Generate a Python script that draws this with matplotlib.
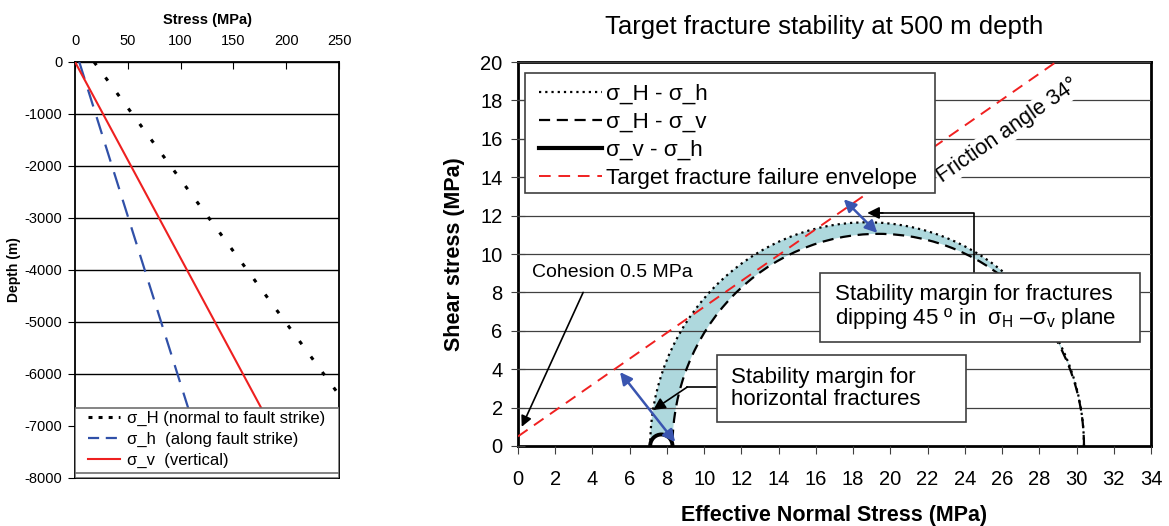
import matplotlib
matplotlib.use("Agg")
import matplotlib.pyplot as plt
from matplotlib.patches import Arc, Wedge, Rectangle
from matplotlib.lines import Line2D

plt.rcParams['font.family'] = ['Liberation Sans', 'DejaVu Sans']
plt.rcParams['mathtext.fontset'] = 'custom'
plt.rcParams['mathtext.rm'] = 'Liberation Sans'
plt.rcParams['mathtext.it'] = 'Liberation Sans:italic'
plt.rcParams['axes.unicode_minus'] = False

# left panel: stress profiles with depth
depth_m = [0, -8000]
stress_H = [18, 308]
stress_h = [4, 128]
stress_v = [0, 212]
depth_ticks = [0, -1000, -2000, -3000, -4000, -5000, -6000, -7000, -8000]
stress_ticks = [0, 50, 100, 150, 200, 250]
left_labels = ["σ_H (normal to fault strike)", "σ_h  (along fault strike)", "σ_v  (vertical)"]

# right panel: effective principal stresses at 500 m (MPa)
sig_H = 30.4
sig_h = 7.1
sig_v = 8.3
env_sigma = [0, 28.9]
env_tau = [0.5, 20.0]
right_labels = ["σ_H - σ_h", "σ_H - σ_v", "σ_v - σ_h", "Target fracture failure envelope"]
x_ticks = list(range(0, 35, 2))
y_ticks = list(range(0, 21, 2))

fig = plt.figure(figsize=(11.69, 5.26), dpi=100)

# ---------------- left panel
ax1 = fig.add_axes([0.0642, 0.0913, 0.2258, 0.7909])
ax1.plot(stress_H, depth_m, color="black", lw=2.2, dashes=(1.3, 5.0), zorder=3)
ax1.plot(stress_h, depth_m, color="#3050a8", lw=1.6, dashes=(8, 5), zorder=3)
ax1.plot(stress_v, depth_m, color="#ee2020", lw=1.5, zorder=3)
ax1.set_xlim(0, 250)
ax1.set_ylim(-8000, 0)
ax1.set_xticks(stress_ticks)
ax1.set_yticks(depth_ticks)
ax1.xaxis.tick_top()
ax1.xaxis.set_label_position("top")
ax1.tick_params(axis="x", direction="in", length=5, pad=10, labelsize=10.5)
ax1.tick_params(axis="y", direction="out", length=5, pad=4, labelsize=10.5)
ax1.set_xlabel("Stress (MPa)", fontsize=10.5, fontweight="bold", labelpad=7)
ax1.set_ylabel("Depth (m)", fontsize=10, fontweight="bold", labelpad=3)
ax1.yaxis.grid(True, color="black", lw=1.0)
ax1.set_axisbelow(True)
for s in ax1.spines.values():
    s.set_linewidth(1.3)

# legend frame covers the lower strip of the panel
ax1.add_patch(Rectangle((0, 0), 1, 0.168, transform=ax1.transAxes, facecolor="white",
                        edgecolor="#707070", lw=1.2, zorder=4.5))
ax1.plot([0, 1], [0.012, 0.012], transform=ax1.transAxes, color="#707070", lw=1.2, zorder=4.6)
h1 = [Line2D([], [], color="black", lw=2.2, dashes=(1.3, 2.0)),
      Line2D([], [], color="#3050a8", lw=1.6, dashes=(5, 3)),
      Line2D([], [], color="#ee2020", lw=1.5)]
leg1 = ax1.legend(h1, left_labels, loc="upper left", bbox_to_anchor=(0.05, 0.162),
                  fontsize=12, frameon=False, handlelength=1.9, handletextpad=0.45,
                  labelspacing=0.36, borderpad=0, borderaxespad=0)
leg1.set_zorder(5)

# ---------------- right panel
ax2 = fig.add_axes([0.4431, 0.1521, 0.5415, 0.7300])
ax2.set_xlim(0, 34)
ax2.set_ylim(0, 20)
ax2.set_xticks(x_ticks)
ax2.set_yticks(y_ticks)
ax2.yaxis.grid(True, color="#404040", lw=0.9, zorder=2.5)
ax2.set_axisbelow(False)
ax2.tick_params(axis="x", direction="out", length=6, pad=11, labelsize=14.5, color="#404040")
ax2.tick_params(axis="y", direction="inout", length=10, pad=6, labelsize=14.5, color="#404040")
for s in ax2.spines.values():
    s.set_linewidth(2.0)

# stability band between the two large Mohr circles
c_Hh, r_Hh = (sig_H + sig_h) / 2, (sig_H - sig_h) / 2
c_Hv, r_Hv = (sig_H + sig_v) / 2, (sig_H - sig_v) / 2
c_vh, r_vh = (sig_v + sig_h) / 2, (sig_v - sig_h) / 2
ax2.add_patch(Wedge((c_Hh, 0), r_Hh, 0, 180, facecolor="#aed8dd", edgecolor="none", zorder=1))
ax2.add_patch(Wedge((c_Hv, 0), r_Hv, 0, 180, facecolor="white", edgecolor="none", zorder=1.1))
ax2.add_patch(Wedge((c_vh, 0), r_vh, 0, 180, facecolor="white", edgecolor="none", zorder=1.1))

ax2.add_patch(Arc((c_Hh, 0), 2 * r_Hh, 2 * r_Hh, theta1=0, theta2=180,
                  color="black", lw=1.6, linestyle=(0, (1, 1.8)), zorder=3))
ax2.add_patch(Arc((c_Hv, 0), 2 * r_Hv, 2 * r_Hv, theta1=0, theta2=180,
                  color="black", lw=1.6, linestyle=(0, (5, 3)), zorder=3))
ax2.add_patch(Arc((c_vh, 0), 2 * r_vh, 2 * r_vh, theta1=0, theta2=180,
                  color="black", lw=2.8, zorder=3))

ax2.plot(env_sigma, env_tau, color="#f02020", lw=1.4, dashes=(6, 4), zorder=3)

ax2.add_patch(Rectangle((0.011, 0.659), 0.648, 0.312, transform=ax2.transAxes,
                        facecolor="white", edgecolor="#404040", lw=1.2, zorder=5.5))
h2 = [Line2D([], [], color="black", lw=1.6, linestyle=(0, (1, 1.8))),
      Line2D([], [], color="black", lw=1.6, linestyle=(0, (5, 3))),
      Line2D([], [], color="black", lw=3.0),
      Line2D([], [], color="#f02020", lw=1.4, dashes=(6, 4))]
leg2 = ax2.legend(h2, right_labels, loc="upper left", bbox_to_anchor=(0.033, 0.943),
                  fontsize=16.2, frameon=False, handlelength=2.8,
                  handletextpad=0.2, labelspacing=0.31, borderpad=0, borderaxespad=0)
leg2.set_zorder(6)

ax2.text(26.3, 16.4, "Friction angle 34°", fontsize=15.5, rotation=34.7,
         ha="center", va="center", rotation_mode="anchor", zorder=4,
         bbox=dict(facecolor="white", edgecolor="none", pad=1))

ax2.text(0.75, 9.06, "Cohesion 0.5 MPa", fontsize=14, ha="left", va="center", zorder=4,
         bbox=dict(facecolor="white", edgecolor="none", pad=0.5))
ax2.annotate("", xy=(0.2, 1.0), xytext=(3.5, 8.0), zorder=4,
             arrowprops=dict(arrowstyle="-|>", color="black", lw=1.2, mutation_scale=16,
                             shrinkA=0, shrinkB=0))

# callout boxes
ax2.add_patch(Rectangle((10.70, 1.25), 13.38, 3.49, facecolor="white",
                        edgecolor="#404040", lw=1.2, zorder=5))
ax2.text(11.45, 3.0, "Stability margin for\nhorizontal fractures", fontsize=16,
         ha="left", va="center", linespacing=1.05, zorder=5.1)
ax2.plot([10.7, 9.09], [3.07, 3.07], color="black", lw=1.2, zorder=4)
ax2.annotate("", xy=(7.26, 1.875), xytext=(9.09, 3.07), zorder=4,
             arrowprops=dict(arrowstyle="-|>", color="black", lw=1.2, mutation_scale=18,
                             shrinkA=0, shrinkB=0))

ax2.add_patch(Rectangle((16.24, 5.42), 17.15, 3.59, facecolor="white",
                        edgecolor="#404040", lw=1.2, zorder=5))
ax2.text(17.05, 7.21, "Stability margin for fractures\ndipping 45 º in  σ$_\\mathrm{H}$ –σ$_\\mathrm{v}$ plane",
         fontsize=16, ha="left", va="center", linespacing=1.05, zorder=5.1)
ax2.plot([24.5, 24.5, 19.5], [9.01, 12.14, 12.14], color="black", lw=1.2, zorder=4)
ax2.annotate("", xy=(18.76, 12.14), xytext=(19.6, 12.14), zorder=4,
             arrowprops=dict(arrowstyle="-|>", color="black", lw=1.2, mutation_scale=18,
                             shrinkA=0, shrinkB=0))

blue = "#3a55b0"
ax2.annotate("", xy=(5.48, 3.85), xytext=(8.44, 0.2), zorder=4,
             arrowprops=dict(arrowstyle="<|-|>", color=blue, lw=1.8, mutation_scale=18,
                             shrinkA=0, shrinkB=0))
ax2.annotate("", xy=(17.5, 12.85), xytext=(19.3, 11.1), zorder=4,
             arrowprops=dict(arrowstyle="<|-|>", color=blue, lw=1.8, mutation_scale=18,
                             shrinkA=0, shrinkB=0))

ax2.set_title("Target fracture stability at 500 m depth", fontsize=18.5, pad=20, x=0.483)
ax2.set_xlabel("Effective Normal Stress (MPa)", fontsize=15.5, fontweight="bold", labelpad=12)
ax2.set_ylabel("Shear stress (MPa)", fontsize=15.5, fontweight="bold", labelpad=11)

fig.savefig("out.png", dpi=100)
